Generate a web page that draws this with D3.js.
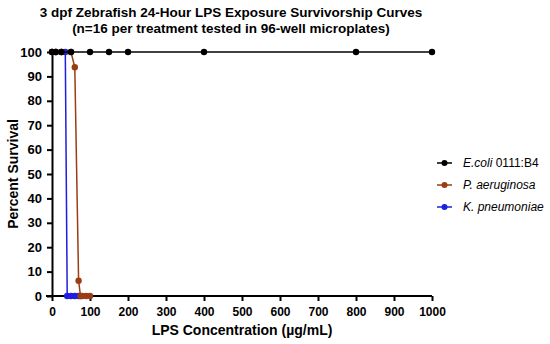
<!DOCTYPE html>
<html>
<head>
<meta charset="utf-8">
<script src="https://cdn.jsdelivr.net/npm/d3@7"></script>
<style>
  body { margin: 0; background: #fff; }
  text { font-family: "Liberation Sans", Arial, sans-serif; }
</style>
</head>
<body>
<svg id="chart" width="550" height="344"></svg>
<script>
// Survival data (percent survival vs LPS concentration)
var ecoliConc = [0, 10, 25, 50, 100, 150, 200, 400, 800, 1000];
var ecoliSurv = [100, 100, 100, 100, 100, 100, 100, 100, 100, 100];

var paeruConc = [0, 10, 25, 50, 60, 70, 75, 80, 90, 100];
var paeruSurv = [100, 100, 100, 100, 93.75, 6.25, 0, 0, 0, 0];

var kpneuConc = [0, 10, 25, 35, 40, 50, 60, 70, 75];
var kpneuSurv = [100, 100, 100, 100, 0, 0, 0, 0, 0];

var seriesNames = ['E.coli', 'P. aeruginosa', 'K. pneumoniae'];
var seriesSuffix = [' 0111:B4', '', ''];
var seriesColors = ['#000000', '#9a3d14', '#1f1fe0'];

var xTicks = [0, 100, 200, 300, 400, 500, 600, 700, 800, 900, 1000];
var yTicks = [0, 10, 20, 30, 40, 50, 60, 70, 80, 90, 100];

var svg = d3.select('#chart');
// plot area edges (can't call it "top": window.top is read-only)
var plotLeft = 52, plotRight = 432, plotTop = 52, plotBottom = 296;

var x = d3.scaleLinear().domain([0, 1000]).range([plotLeft, plotRight]);
var y = d3.scaleLinear().domain([0, 100]).range([plotBottom, plotTop]);

// title
svg.append('text')
    .attr('x', 231).attr('y', 17)
    .attr('text-anchor', 'middle')
    .attr('font-size', 13.5).attr('font-weight', 'bold')
    .text('3 dpf Zebrafish 24-Hour LPS Exposure Survivorship Curves');
svg.append('text')
    .attr('x', 231).attr('y', 33)
    .attr('text-anchor', 'middle')
    .attr('font-size', 13.5).attr('font-weight', 'bold')
    .text('(n=16 per treatment tested in 96-well microplates)');

// axes
var xAxis = svg.append('g')
    .attr('transform', 'translate(0,' + plotBottom + ')')
    .call(d3.axisBottom(x).tickValues(xTicks).tickFormat(d3.format('d'))
        .tickSize(5).tickSizeOuter(0));
var yAxis = svg.append('g')
    .attr('transform', 'translate(' + plotLeft + ',0)')
    .call(d3.axisLeft(y).tickValues(yTicks).tickFormat(d3.format('d'))
        .tickSize(5).tickSizeOuter(0));

[xAxis, yAxis].forEach(function(a) {
    a.select('.domain').attr('stroke', '#000').attr('stroke-width', 2);
    a.selectAll('.tick line').attr('stroke', '#000').attr('stroke-width', 2);
    a.selectAll('.tick text')
        .attr('font-weight', 'bold')
        .attr('fill', '#000')
        .style('font-family', '"Liberation Sans", Arial, sans-serif');
});
xAxis.select('.domain').attr('d', 'M' + (plotLeft - 6) + ',0H' + plotRight);
xAxis.selectAll('.tick text').attr('font-size', 12).attr('dy', '1em');
yAxis.selectAll('.tick text').attr('font-size', 13).attr('x', -10);

svg.append('text')
    .attr('x', (plotLeft + plotRight) / 2).attr('y', 335)
    .attr('text-anchor', 'middle')
    .attr('font-size', 14).attr('font-weight', 'bold')
    .text('LPS Concentration (µg/mL)');
svg.append('text')
    .attr('transform', 'translate(18,' + ((plotTop + plotBottom) / 2) + ') rotate(-90)')
    .attr('text-anchor', 'middle')
    .attr('font-size', 14).attr('font-weight', 'bold')
    .text('Percent Survival');

// series
var series = [
    d3.zip(ecoliConc, ecoliSurv),
    d3.zip(paeruConc, paeruSurv),
    d3.zip(kpneuConc, kpneuSurv)
];
var line = d3.line().x(function(d) { return x(d[0]); }).y(function(d) { return y(d[1]); });

// draw in reverse so black sits on top at 100
[2, 1, 0].forEach(function(i) {
    var g = svg.append('g');
    g.append('path')
        .datum(series[i])
        .attr('d', line)
        .attr('fill', 'none')
        .attr('stroke', seriesColors[i])
        .attr('stroke-width', 1.5);
    g.selectAll('circle')
        .data(series[i])
        .join('circle')
        .attr('cx', function(d) { return x(d[0]); })
        .attr('cy', function(d) { return y(d[1]); })
        .attr('r', 3.2)
        .attr('fill', seriesColors[i]);
});

// legend
var legend = svg.append('g');
seriesNames.forEach(function(name, i) {
    var ly = 163 + i * 22;
    legend.append('line')
        .attr('x1', 437).attr('x2', 452).attr('y1', ly).attr('y2', ly)
        .attr('stroke', seriesColors[i]).attr('stroke-width', 1.5);
    legend.append('circle')
        .attr('cx', 444.5).attr('cy', ly).attr('r', 3)
        .attr('fill', seriesColors[i]);
    var t = legend.append('text')
        .attr('x', 463).attr('y', ly + 4)
        .attr('font-size', 12);
    t.append('tspan').attr('font-style', 'italic').text(name);
    if (seriesSuffix[i]) t.append('tspan').text(seriesSuffix[i]);
});
</script>
</body>
</html>
